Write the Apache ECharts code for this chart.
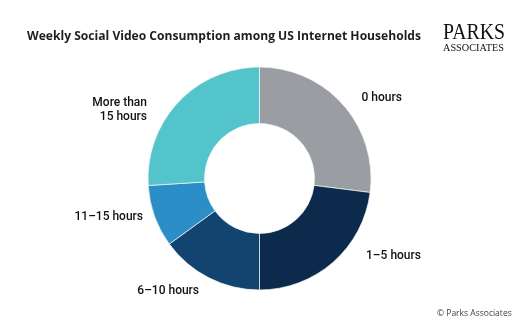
<!DOCTYPE html>
<html>
<head>
<meta charset="utf-8">
<script src="https://cdn.jsdelivr.net/npm/echarts@6/dist/echarts.min.js"></script>
<style>
html,body{margin:0;padding:0;background:#fff;}
#chart{width:526px;height:328px;}
</style>
</head>
<body>
<div id="chart"></div>
<script>
// ---- data ----
const categories = ['0 hours', '1–5 hours', '6–10 hours', '11–15 hours', 'More than\n15 hours'];
const values = [27, 23, 15, 9, 26];
const colors = ['#9a9da1', '#0c2b4c', '#13446f', '#2b8ec6', '#53c5ca'];
const titleText = 'Weekly Social Video Consumption among US Internet Households';
const sourceText = '© Parks Associates';

// label line geometry per slice (layout only)
const lineLen = [10.7, -8.6, 14.4, 2.2, -11.5];
const lineLen2 = [5.3, 33.5, -1.7, 4.5, 34.6];

const chart = echarts.init(document.getElementById('chart'), null, {renderer: 'canvas'});
const labelFont = "Roboto, sans-serif";

const data = categories.map((c, i) => ({
  name: c,
  value: values[i],
  itemStyle: {color: colors[i]},
  labelLine: {show: false, length: lineLen[i], length2: lineLen2[i]}
}));

chart.setOption({
  animation: false,
  title: {
    text: titleText,
    left: 22,
    top: 26,
    textStyle: {fontFamily: "'Open Sans', sans-serif", fontSize: 12.1, fontWeight: 700, color: '#1e1e1e'}
  },
  graphic: [
    {type: 'text', left: 443, top: 21, style: {text: 'PARKS', font: "23px 'Liberation Serif', serif", fill: '#111'}, scaleX: 0.86},
    {type: 'text', left: 443, top: 43, style: {text: 'ASSOCIATES', font: "11px 'Liberation Serif', serif", fill: '#111'}, scaleX: 0.93},
    {type: 'text', left: 437, top: 309, style: {text: sourceText, font: "500 8.5px 'Open Sans', sans-serif", fill: '#444'}}
  ],
  series: [{
    type: 'pie',
    center: [259.5, 178.5],
    radius: [55, 111.5],
    startAngle: 90,
    clockwise: true,
    avoidLabelOverlap: false,
    itemStyle: {borderColor: '#f4f6f8', borderWidth: 0.7},
    label: {
      show: true,
      position: 'outside',
      fontFamily: labelFont,
      fontSize: 12,
      fontWeight: 500,
      color: '#111',
      lineHeight: 14,
      distanceToLabelLine: 5
    },
    labelLine: {show: false},
    emphasis: {disabled: true},
    data: data
  }]
});
</script>
</body>
</html>
